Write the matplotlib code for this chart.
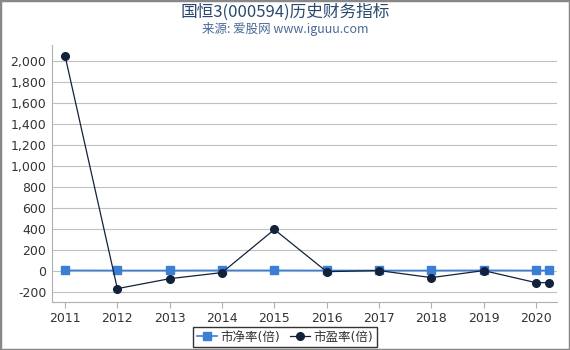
import datetime as dt

import matplotlib
matplotlib.use("Agg")
import matplotlib.dates as mdates
import matplotlib.pyplot as plt
from matplotlib.patches import Rectangle

plt.rcParams["font.family"] = ["DejaVu Sans", "Noto Sans CJK SC"]

dates = ["2011-01-01", "2012-01-01", "2013-01-01", "2014-01-01", "2015-01-01",
         "2016-01-01", "2017-01-01", "2018-01-01", "2019-01-01", "2020-01-01",
         "2020-03-31"]
pb = [2, 1, 1, 2, 2, 1, 1, 1, 2, 1, 1]
pe = [2048, -172, -77, -19, 392, -10, 0, -67, 0, -115, -115]
year_ticks = list(range(2011, 2021))

title = "国恒3(000594)历史财务指标"
subtitle = "来源: 爱股网 www.iguuu.com"

x = [dt.datetime.strptime(d, "%Y-%m-%d") for d in dates]

fig = plt.figure(figsize=(5.7, 3.5), dpi=100)
ax = fig.add_axes([0.091, 0.137, 0.886, 0.734])

ax.plot(x, pb, color="#3a7fd5", marker="s", markersize=5.5, linewidth=1.2,
        label="市净率(倍)", zorder=3)
ax.plot(x, pe, color="#13213a", marker="o", markersize=5.5, linewidth=0.9,
        label="市盈率(倍)", zorder=4)

ax.set_ylim(-300, 2150)
ax.set_yticks(range(-200, 2001, 200))
ax.yaxis.set_major_formatter(matplotlib.ticker.FuncFormatter(lambda v, p: f"{int(v):,}"))
ax.set_xlim(dt.datetime(2010, 10, 1), dt.datetime(2020, 5, 26))
ax.set_xticks([dt.datetime(y, 1, 1) for y in year_ticks])
ax.xaxis.set_major_formatter(mdates.DateFormatter("%Y"))

ax.grid(axis="y", color="#c0c0c0", linewidth=0.8)
ax.set_axisbelow(True)
for s in ["top", "right"]:
    ax.spines[s].set_visible(False)
for s in ["left", "bottom"]:
    ax.spines[s].set_color("#b0b0b0")
ax.tick_params(axis="y", length=0, labelsize=9, colors="#333333", pad=4)
ax.tick_params(axis="x", length=4, color="#b0b0b0", labelsize=9, colors="#333333")

cjk = ["Noto Sans CJK SC", "DejaVu Sans"]
fig.text(0.5, 0.966, title, ha="center", va="center", fontsize=12,
         color="#2b4a6f", family=cjk)
fig.text(0.5, 0.917, subtitle, ha="center", va="center", fontsize=9,
         color="#4a6a96", family=cjk)

leg = fig.legend(loc="center", bbox_to_anchor=(0.5, 0.037), ncol=2, fontsize=9,
                 frameon=True, fancybox=False, edgecolor="black",
                 handlelength=1.6, handletextpad=0.3, columnspacing=0.8,
                 borderpad=0.3)
leg.get_frame().set_linewidth(1.0)
for t in leg.get_texts():
    t.set_color("#333333")

fig.patches.append(Rectangle((0, 0), 1, 1, transform=fig.transFigure, fill=False,
                             edgecolor="#888888", linewidth=2.5))

fig.savefig("out.png", dpi=100)
